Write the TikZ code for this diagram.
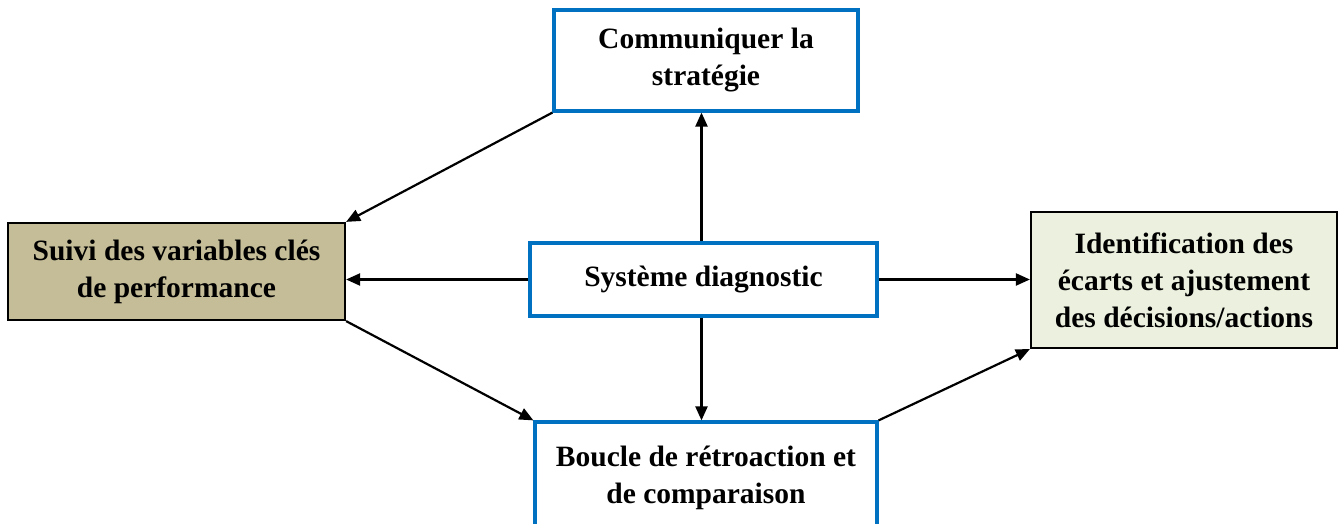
\documentclass[tikz,border=0pt]{standalone}
\usepackage{fontspec}
\setmainfont{Liberation Serif}
\usetikzlibrary{arrows.meta}
\definecolor{boxblue}{HTML}{0070C0}
\definecolor{khaki}{HTML}{C4BD97}
\definecolor{palegreen}{HTML}{EBF1DE}
\begin{document}
\begin{tikzpicture}[x=1pt,y=1pt,
  lbl/.style={font=\fontsize{29.5}{37}\selectfont\bfseries, align=center, inner sep=0pt},
  bluebox/.style={lbl, draw=boxblue, line width=3.2pt, fill=white},
  blackbox/.style={lbl, draw=black, line width=2.2pt},
  link/.style={line width=2.2pt, -{Triangle[length=14pt,width=12pt]}}]
\useasboundingbox (0,0) rectangle (1338,524);
\node[bluebox, minimum width=304pt, minimum height=101pt] (strat) at (706,463.5)
  {Communiquer la\\stratégie};
\node[blackbox, fill=khaki, minimum width=337pt, minimum height=97pt] (suivi) at (176.5,252.5)
  {Suivi des variables clés\\de performance};
\node[blackbox, fill=palegreen, minimum width=306pt, minimum height=136pt] (ecarts) at (1184,244)
  {Identification des\\écarts et ajustement\\des décisions/actions};
\node[bluebox, minimum width=347pt, minimum height=73pt] (diag) at (703.5,244.5)
  {Système diagnostic};
\node[bluebox, minimum width=342pt, minimum height=112pt] (boucle) at (706,46)
  {Boucle de rétroaction et\\de comparaison};
% connectors
\draw[link] (strat.south west) -- (suivi.north east);
\draw[link] ([xshift=-2pt]diag.north) -- ([xshift=-2pt]diag.north |- strat.south);
\draw[link] (diag.west) -- (diag.west -| suivi.east);
\draw[link] (diag.east) -- (diag.east -| ecarts.west);
\draw[link] ([xshift=-2pt]diag.south) -- ([xshift=-2pt]diag.south |- boucle.north);
\draw[link] (suivi.south east) -- (boucle.north west);
\draw[link] (boucle.north east) -- (ecarts.south west);
\end{tikzpicture}
\end{document}
